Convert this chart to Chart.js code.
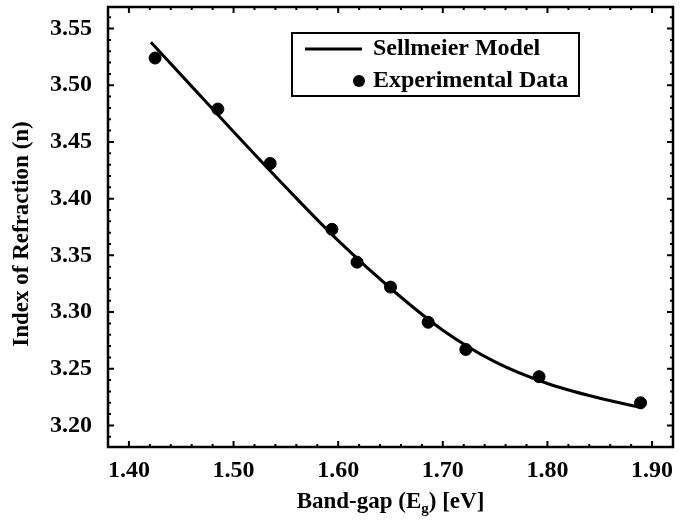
<!DOCTYPE html>
<html>
<head>
<meta charset="utf-8">
<script src="https://cdn.jsdelivr.net/npm/chart.js@4.4.0/dist/chart.umd.min.js"></script>
<style>
  html, body { margin: 0; padding: 0; background: #fff; }
  #wrap { width: 680px; height: 521px; }
</style>
</head>
<body>
<div id="wrap"><canvas id="myChart" width="680" height="521"></canvas></div>
<script>
// band-gap values [eV] and measured refractive index
const expX = [1.425, 1.485, 1.535, 1.594, 1.618, 1.650, 1.686, 1.722, 1.792, 1.889];
const expY = [3.524, 3.479, 3.431, 3.373, 3.344, 3.322, 3.291, 3.267, 3.243, 3.220];

// Sellmeier model curve
const modelX = [1.421, 1.46, 1.50, 1.55, 1.60, 1.65, 1.70, 1.75, 1.80, 1.85, 1.891];
const modelY = [3.538, 3.499, 3.459, 3.410, 3.363, 3.321, 3.284, 3.256, 3.237, 3.224, 3.2155];

const xTicks = [1.40, 1.50, 1.60, 1.70, 1.80, 1.90];
const yTicks = [3.20, 3.25, 3.30, 3.35, 3.40, 3.45, 3.50, 3.55];

const FONT = 'Liberation Serif, Times New Roman, serif';
Chart.defaults.font.family = FONT;
Chart.defaults.font.weight = 'bold';
Chart.defaults.color = '#000';

// frame, inward ticks on all four sides, axis titles and legend box
const decorations = {
    id: 'decorations',
    afterDraw(chart){
        const ctx = chart.ctx;
        const a = chart.chartArea;
        const sx = chart.scales.x, sy = chart.scales.y;
        ctx.save();
        ctx.strokeStyle = '#000';
        ctx.lineWidth = 2.5;
        ctx.strokeRect(a.left, a.top, a.right - a.left, a.bottom - a.top);

        ctx.lineWidth = 2;
        ctx.beginPath();
        for (let v = 1.38; v <= 1.92 + 1e-9; v += 0.02){
            const major = xTicks.some(t => Math.abs(t - v) < 1e-6);
            const len = major ? 6 : 3;
            const px = sx.getPixelForValue(v);
            if (px <= a.left + 1 || px >= a.right - 1) continue;
            ctx.moveTo(px, a.bottom); ctx.lineTo(px, a.bottom - len);
            ctx.moveTo(px, a.top); ctx.lineTo(px, a.top + len);
        }
        for (let v = 3.19; v <= 3.57 + 1e-9; v += 0.01){
            const major = yTicks.some(t => Math.abs(t - v) < 1e-6);
            const len = major ? 6 : 3;
            const py = sy.getPixelForValue(v);
            if (py <= a.top + 1 || py >= a.bottom - 1) continue;
            ctx.moveTo(a.left, py); ctx.lineTo(a.left + len, py);
            ctx.moveTo(a.right, py); ctx.lineTo(a.right - len, py);
        }
        ctx.stroke();

        ctx.fillStyle = '#000';
        const big = 'bold 23px ' + FONT, small = 'bold 15px ' + FONT;

        // y axis title
        ctx.save();
        ctx.translate(22, 234);
        ctx.rotate(-Math.PI / 2);
        ctx.font = big;
        ctx.textAlign = 'center';
        ctx.textBaseline = 'middle';
        ctx.fillText('Index of Refraction (n)', 0, 0);
        ctx.restore();

        // x axis title with subscript g
        ctx.textBaseline = 'alphabetic';
        ctx.textAlign = 'left';
        const p1 = 'Band-gap (E', p2 = 'g', p3 = ') [eV]';
        ctx.font = big;
        const w1 = ctx.measureText(p1).width, w3 = ctx.measureText(p3).width;
        ctx.font = small;
        const w2 = ctx.measureText(p2).width;
        let tx = (a.left + a.right) / 2 - (w1 + w2 + w3) / 2;
        const base = 508;
        ctx.font = big; ctx.fillText(p1, tx, base); tx += w1;
        ctx.font = small; ctx.fillText(p2, tx, base + 5); tx += w2;
        ctx.font = big; ctx.fillText(p3, tx, base);

        // legend
        ctx.lineWidth = 2;
        ctx.strokeRect(292, 33, 287, 63);
        ctx.lineWidth = 3;
        ctx.beginPath();
        ctx.moveTo(305, 49); ctx.lineTo(362, 49);
        ctx.stroke();
        ctx.beginPath();
        ctx.arc(359, 81, 6, 0, Math.PI * 2);
        ctx.fill();
        ctx.font = 'bold 24px ' + FONT;
        ctx.textBaseline = 'middle';
        ctx.fillText(chart.data.datasets[0].label, 373, 49);
        ctx.fillText(chart.data.datasets[1].label, 373, 81);
        ctx.restore();
    }
};

const ctx = document.getElementById('myChart');
new Chart(ctx, {
    type: 'scatter',
    data: {
        datasets: [{
            label: 'Sellmeier Model',
            type: 'line',
            data: modelX.map((x, i) => ({x: x, y: modelY[i]})),
            borderColor: '#000',
            borderWidth: 3,
            pointRadius: 0,
            fill: false,
            cubicInterpolationMode: 'monotone'
        }, {
            label: 'Experimental Data',
            data: expX.map((x, i) => ({x: x, y: expY[i]})),
            backgroundColor: '#000',
            borderColor: '#000',
            pointRadius: 6,
            pointHoverRadius: 6
        }]
    },
    options: {
        responsive: false,
        animation: false,
        layout: { padding: { top: 6, right: 3, left: 0, bottom: 0 } },
        plugins: {
            legend: { display: false },
            tooltip: { enabled: false }
        },
        scales: {
            x: {
                type: 'linear',
                min: 1.38,
                max: 1.92,
                grid: { display: false, drawTicks: false },
                border: { display: false },
                afterBuildTicks: s => { s.ticks = xTicks.map(v => ({value: v})); },
                afterFit: s => { s.height = 74; s.paddingLeft = 0; s.paddingRight = 0; },
                ticks: {
                    padding: 9,
                    maxRotation: 0,
                    font: { size: 24, weight: 'bold' },
                    callback: v => v.toFixed(2)
                }
            },
            y: {
                min: 3.181,
                max: 3.569,
                grid: { display: false, drawTicks: false },
                border: { display: false },
                afterBuildTicks: s => { s.ticks = yTicks.map(v => ({value: v})); },
                afterFit: s => { s.width = 108; s.paddingTop = 0; s.paddingBottom = 0; },
                ticks: {
                    padding: 16,
                    font: { size: 24, weight: 'bold' },
                    callback: v => v.toFixed(2)
                }
            }
        }
    },
    plugins: [decorations]
});
</script>
</body>
</html>
